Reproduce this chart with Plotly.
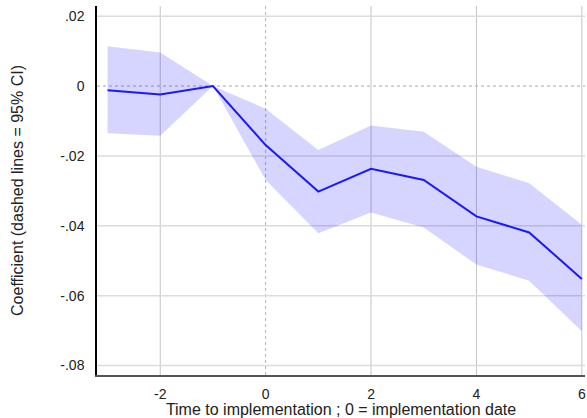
import plotly.graph_objects as go

periods = [-3, -2, -1, 0, 1, 2, 3, 4, 5, 6]
coef = [-0.0012, -0.0024, 0.0, -0.0169, -0.0302, -0.0237, -0.0269, -0.0373, -0.0419, -0.0552]
ci_upper = [0.0114, 0.0096, 0.0, -0.0065, -0.0183, -0.0113, -0.0131, -0.0231, -0.0278, -0.0397]
ci_lower = [-0.0135, -0.0142, 0.0, -0.0269, -0.0421, -0.0362, -0.0405, -0.0511, -0.0557, -0.0702]

x_ticks = [-2, 0, 2, 4, 6]
x_labels = ["-2", "0", "2", "4", "6"]
y_ticks = [0.02, 0, -0.02, -0.04, -0.06, -0.08]
y_labels = [".02", "0", "-.02", "-.04", "-.06", "-.08"]

x_range = [-3.2, 6.06]
y_range = [-0.0827, 0.0229]

fig = go.Figure()

fig.add_trace(go.Scatter(x=periods, y=ci_upper, mode="lines", line=dict(width=0),
                         hoverinfo="skip", showlegend=False))
fig.add_trace(go.Scatter(x=periods, y=ci_lower, mode="lines", line=dict(width=0),
                         fill="tonexty", fillcolor="rgba(0,0,255,0.165)",
                         hoverinfo="skip", showlegend=False))
fig.add_trace(go.Scatter(x=periods, y=coef, mode="lines",
                         line=dict(color="rgb(25,25,255)", width=2), showlegend=False))

shapes = []
for v in x_ticks:
    zero = v == 0
    shapes.append(dict(type="line", xref="x", yref="paper", x0=v, x1=v, y0=0, y1=1,
                       line=dict(color="#b0b0b0" if zero else "#c4c4c4", width=1,
                                 dash="dot" if zero else "solid"), layer="below"))
for v in y_ticks:
    zero = v == 0
    shapes.append(dict(type="line", xref="paper", yref="y", x0=0, x1=1, y0=v, y1=v,
                       line=dict(color="#a8a8a8" if zero else "#dcdcdc", width=1 if zero else 1.5,
                                 dash="dot" if zero else "solid"), layer="below"))

fig.update_layout(
    width=587, height=418,
    margin=dict(l=97, r=2, t=6, b=43),
    paper_bgcolor="white", plot_bgcolor="white",
    font=dict(family="Liberation Sans, Arial, sans-serif", color="#222", size=14),
    shapes=shapes,
    xaxis=dict(range=x_range, tickvals=x_ticks, ticktext=x_labels, showgrid=False,
               zeroline=False, showline=True, linecolor="#555", linewidth=1.5,
               ticks="", tickfont=dict(size=14), ticklabelstandoff=5,
               title=dict(text="Time to implementation ; 0 = implementation date",
                          font=dict(size=16), standoff=3)),
    yaxis=dict(range=y_range, tickvals=y_ticks, ticktext=y_labels, showgrid=False,
               zeroline=False, showline=True, linecolor="black", linewidth=1.5,
               ticks="", tickfont=dict(size=14), ticklabelstandoff=8,
               title=dict(text="Coefficient (dashed lines = 95% CI)",
                          font=dict(size=16), standoff=33)),
)

fig.write_html("out.html", config={"displayModeBar": False},
               post_script="document.body.style.margin='0';")
